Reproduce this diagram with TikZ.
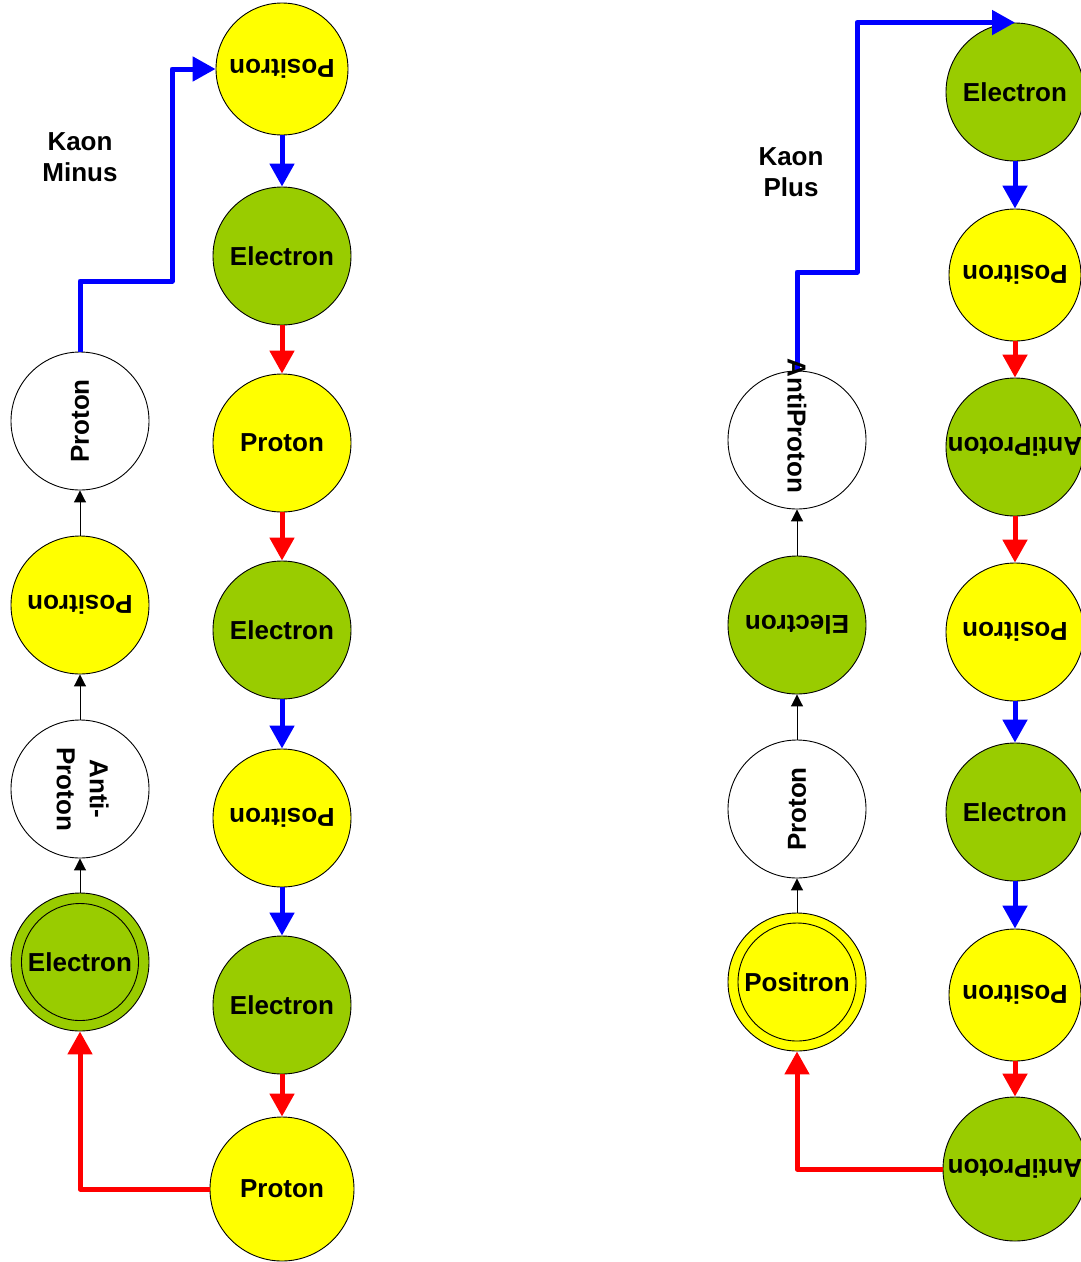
\documentclass[tikz,border=0pt]{standalone}
\usepackage{fontspec}
\setmainfont{Liberation Sans}
\usepackage{graphicx}
\usetikzlibrary{arrows.meta}
\definecolor{egreen}{HTML}{99CC00}
\definecolor{pyellow}{HTML}{FFFF00}
\begin{document}
\begin{tikzpicture}[x=1pt,y=-1pt,
  part/.style={circle,draw=black,line width=0.9pt,minimum size=138pt,inner sep=0pt,font=\fontsize{26}{33}\selectfont\bfseries},
  grn/.style={part,fill=egreen},
  yel/.style={part,fill=pyellow},
  wht/.style={part,fill=white},
  smallc/.style={minimum size=132pt},
  bigc/.style={minimum size=144pt},
  lbl/.style={font=\fontsize{26}{31}\selectfont\bfseries,align=center,inner sep=0pt},
  blueflow/.style={draw=blue,line width=5pt,line join=round,-{Triangle[length=23pt,width=24pt]}},
  redflow/.style={draw=red,line width=5pt,line join=round,-{Triangle[length=23pt,width=24pt]}},
  thinflow/.style={draw=black,line width=1pt,-{Triangle[length=12pt,width=12pt]}}]
\useasboundingbox (0,0) rectangle (1081,1262);

% ---------- Kaon Minus ----------
\node[lbl] (kmlabel) at (80,157) {Kaon\\Minus};

% left column
\node[wht] (lpro) at (80,421) {\rotatebox{90}{Proton}};
\node[yel] (lpos) at (80,605) {\rotatebox{180}{Positron}};
\node[wht] (lanti) at (80,789) {\rotatebox{-90}{\begin{tabular}{@{}c@{}}Anti-\\Proton\end{tabular}}};
\node[grn] (lel) at (80,962) {Electron};
\draw[line width=0.9pt] (lel.center) circle[radius=58.5pt];

% right column
\node[yel,smallc] (b1) at (282,69) {\rotatebox{180}{Positron}};
\node[grn] (b2) at (282,256) {Electron};
\node[yel] (b3) at (282,443) {Proton};
\node[grn] (b4) at (282,630) {Electron};
\node[yel] (b5) at (282,818) {\rotatebox{180}{Positron}};
\node[grn] (b6) at (282,1005) {Electron};
\node[yel,bigc] (b7) at (282,1189) {Proton};

\draw[thinflow] (lel.north) -- (lanti.south);
\draw[thinflow] (lanti.north) -- (lpos.south);
\draw[thinflow] (lpos.north) -- (lpro.south);

\draw[blueflow] (b1.south) -- (b2.north);
\draw[redflow] (b2.south) -- (b3.north);
\draw[redflow] (b3.south) -- (b4.north);
\draw[blueflow] (b4.south) -- (b5.north);
\draw[blueflow] (b5.south) -- (b6.north);
\draw[redflow] (b6.south) -- (b7.north);

\coordinate (kmA) at (80,281);
\coordinate (kmB) at (172,281);
\draw[blueflow] (lpro.north) -- (kmA) -- (kmB) |- (b1.west);
\draw[redflow] (b7.west) -| (lel.south);

% ---------- Kaon Plus ----------
\node[lbl] (kplabel) at (791,172) {Kaon\\Plus};

\node[wht] (cap) at (797,440) {};
\node[grn] (cel) at (797,625) {\rotatebox{180}{Electron}};
\node[wht] (cpro) at (797,809) {\rotatebox{90}{Proton}};
\node[yel] (cpos) at (797,982) {Positron};
\draw[line width=0.9pt] (cpos.center) circle[radius=59pt];

\node[grn] (d1) at (1015,92) {Electron};
\node[yel,smallc] (d2) at (1015,275) {\rotatebox{180}{Positron}};
\node[grn] (d3) at (1015,447) {\rotatebox{180}{AntiProton}};
\node[yel] (d4) at (1015,632) {\rotatebox{180}{Positron}};
\node[grn] (d5) at (1015,812) {Electron};
\node[yel,smallc] (d6) at (1015,995) {\rotatebox{180}{Positron}};
\node[grn,bigc] (d7) at (1015,1169) {\rotatebox{180}{AntiProton}};

\draw[thinflow] (cpos.north) -- (cpro.south);
\draw[thinflow] (cpro.north) -- (cel.south);
\draw[thinflow] (cel.north) -- (cap.south);

\draw[blueflow] (d1.south) -- (d2.north);
\draw[redflow] (d2.south) -- (d3.north);
\draw[redflow] (d3.south) -- (d4.north);
\draw[blueflow] (d4.south) -- (d5.north);
\draw[blueflow] (d5.south) -- (d6.north);
\draw[redflow] (d6.south) -- (d7.north);

\coordinate (kpA) at (797,272);
\coordinate (kpB) at (857,272);
\draw[blueflow] (cap.north) -- (kpA) -- (kpB) |- (d1.north);
\draw[redflow] (d7.west) -| (cpos.south);

% label of the white AntiProton, set on top of the connector
\node[lbl,rotate=-90] (captext) at (797,426) {AntiProton};
\end{tikzpicture}
\end{document}
